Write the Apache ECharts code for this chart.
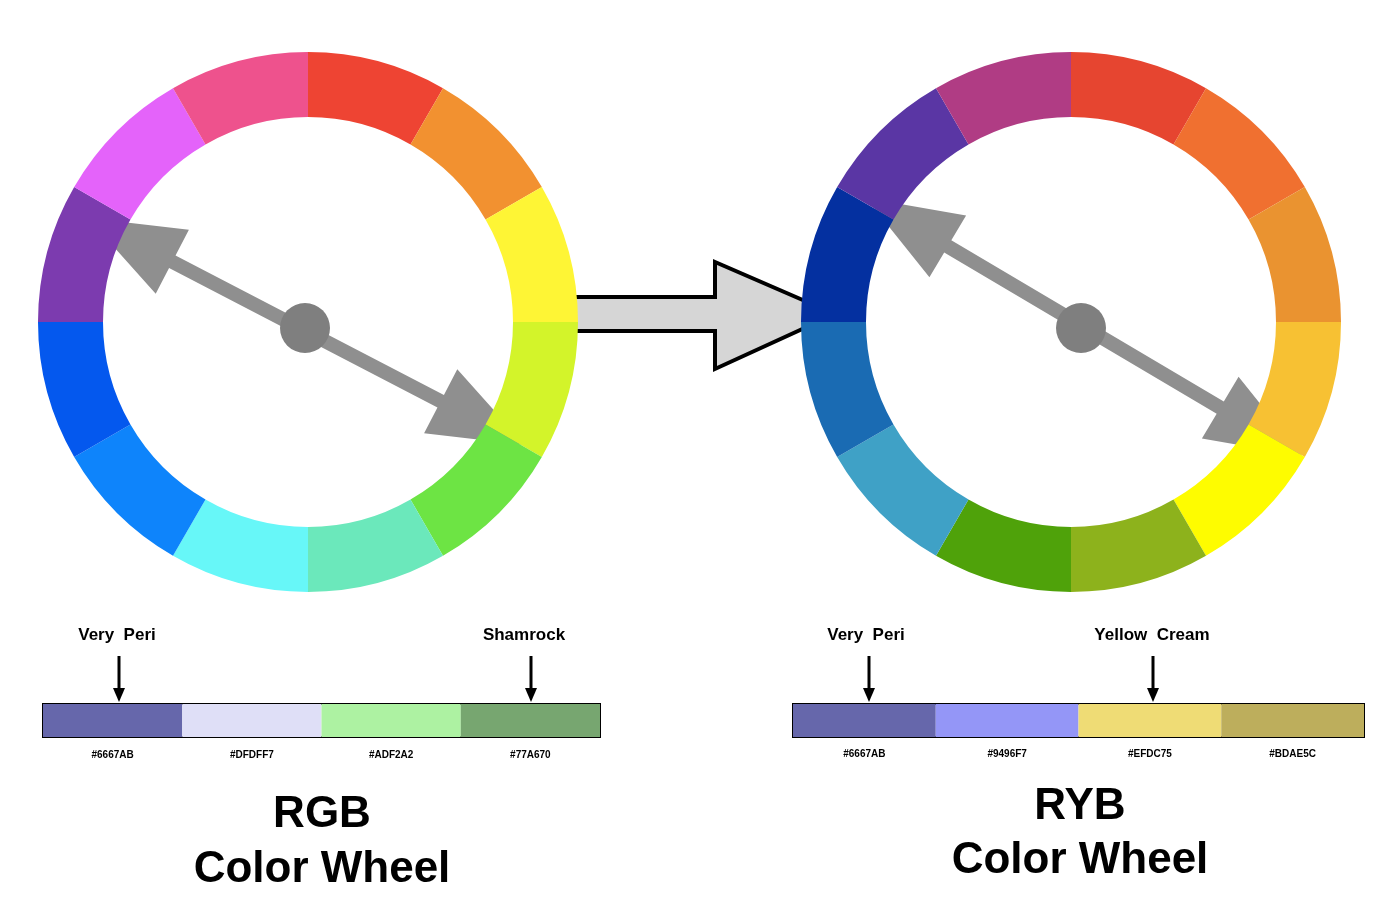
<!DOCTYPE html>
<html><head><meta charset="utf-8">
<script src="https://cdn.jsdelivr.net/npm/echarts@6/dist/echarts.min.js"></script>
<style>html,body{margin:0;padding:0;background:#fff}#c{width:1400px;height:918px}</style>
</head><body><div id="c"></div>
<script>
const rgbWheel = ['#EE4433','#F29130','#FEF535','#D3F42A','#6DE444','#6BE8BB','#67F7F8','#0E84FB','#0458EE','#7C3BAF','#E463FA','#EE528D'];
const rybWheel = ['#E64530','#F07030','#EA9330','#F7C133','#FEFC00','#8DB21C','#4FA20A','#3FA1C6','#1A6BB3','#0430A0','#5A36A4','#B03C84'];
const rgbSwatches = ['#6667AB','#DFDFF7','#ADF2A2','#77A670'];
const rybSwatches = ['#6667AB','#9496F7','#EFDC75','#BDAE5C'];
const rgbNames = ['Very  Peri','Shamrock'];
const rybNames = ['Very  Peri','Yellow  Cream'];

const chart = echarts.init(document.getElementById('c'));
const F = 'Liberation Sans, Arial, sans-serif';

function wheel(colors, cx, cy){
  return {type:'pie', center:[cx,cy], radius:[205,270], startAngle:90, clockwise:true,
    silent:true, label:{show:false}, labelLine:{show:false},
    data: colors.map(c=>({value:1, itemStyle:{color:c}}))};
}
function dblArrow(x1,y1,x2,y2){
  const dx=x2-x1, dy=y2-y1, L=Math.hypot(dx,dy), ux=dx/L, uy=dy/L, nx=-uy, ny=ux;
  const sw=7, hl=95, hw=36;
  const P=(t,o)=>[x1+ux*t+nx*o, y1+uy*t+ny*o];
  return [P(0,0),P(hl,hw),P(hl,sw),P(L-hl,sw),P(L-hl,hw),P(L,0),P(L-hl,-hw),P(L-hl,-sw),P(hl,-sw),P(hl,-hw)];
}
function swatchSeries(colors, gi){
  return colors.map((c,i)=>({type:'bar', stack:'s'+gi, xAxisIndex:gi, yAxisIndex:gi, barWidth:'100%', silent:true,
    data:[1], itemStyle:{color:c}, label:{show:false}}));
}
const graphic = [];
function txt(x,y,t,size){graphic.push({type:'text', x:x, y:y, style:{text:t, font:'bold '+size+'px '+F, fill:'#000', textAlign:'center', textVerticalAlign:'middle'}});}
function downArrow(x){graphic.push({type:'line', shape:{x1:x,y1:656,x2:x,y2:692}, style:{stroke:'#000',lineWidth:3}});
  graphic.push({type:'polygon', shape:{points:[[x-6,688],[x+6,688],[x,702]]}, style:{fill:'#000'}});}

graphic.push({type:'polygon', shape:{points:dblArrow(88,218,525,445)}, style:{fill:'#8F8F8F'}});
graphic.push({type:'circle', shape:{cx:305,cy:328,r:25}, style:{fill:'#7F7F7F'}});
graphic.push({type:'polygon', shape:{points:dblArrow(866,198,1302,456)}, style:{fill:'#8F8F8F'}});
graphic.push({type:'circle', shape:{cx:1081,cy:328,r:25}, style:{fill:'#7F7F7F'}});
graphic.push({type:'polygon', shape:{points:[[557,297],[715,297],[715,262],[835,314],[715,369],[715,331],[557,331]]}, style:{fill:'#D6D6D6',stroke:'#000',lineWidth:4}});
txt(117,635,rgbNames[0],17); txt(524,635,rgbNames[1],17);
txt(866,635,rybNames[0],17); txt(1152,635,rybNames[1],17);
downArrow(119); downArrow(531); downArrow(869); downArrow(1153);
rgbSwatches.forEach((c,i)=>txt(43+557/8*(2*i+1),755,c,10));
rybSwatches.forEach((c,i)=>txt(793+571/8*(2*i+1),754,c,10));
txt(322,815,'RGB',44); txt(322,870,'Color Wheel',44);
txt(1080,807,'RYB',44); txt(1080,861,'Color Wheel',44);

chart.setOption({
  backgroundColor:'#fff', animation:false,
  grid:[{left:43,width:557,top:704,height:33,show:true,borderColor:'#000',borderWidth:2,backgroundColor:'transparent'},
        {left:793,width:571,top:704,height:33,show:true,borderColor:'#000',borderWidth:2,backgroundColor:'transparent'}],
  xAxis:[{gridIndex:0,type:'value',min:0,max:4,show:false},{gridIndex:1,type:'value',min:0,max:4,show:false}],
  yAxis:[{gridIndex:0,type:'category',data:['a'],show:false},{gridIndex:1,type:'category',data:['a'],show:false}],
  series:[wheel(rgbWheel,308,322), wheel(rybWheel,1071,322), ...swatchSeries(rgbSwatches,0), ...swatchSeries(rybSwatches,1)],
  graphic: graphic
});
</script></body></html>
